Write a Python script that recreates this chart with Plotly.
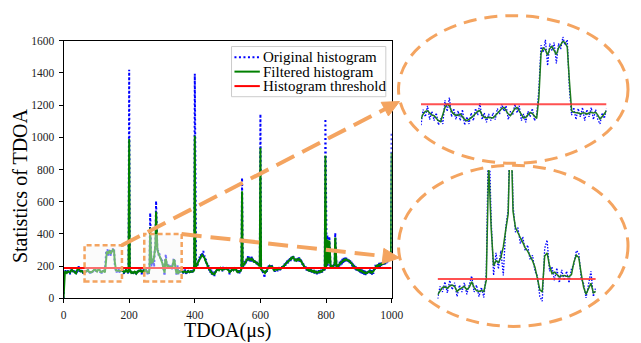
import plotly.graph_objects as go

W, H = 641, 343
FONT = "Liberation Serif, Times New Roman, serif"

# ---------------- data ----------------
tdoa = list(range(0, 1001, 2))  # µs, step 2

filtered = (
    # 0-18
    [0, 158, 163, 166, 160, 158, 163, 168, 165, 162]
    # 20-190
    + [161, 170, 175, 176, 172, 168, 167, 162, 158, 156,
       168, 182, 188, 185, 175, 170, 168, 168, 170, 164,
       160, 158, 160, 163, 167, 171, 175, 176, 168, 164,
       163, 164, 163, 163, 167, 172, 176, 180, 182, 176,
       170, 167, 174, 180, 182, 175, 168, 163, 164, 168,
       173, 171, 166, 162, 200, 280, 290, 287, 277, 289,
       293, 285, 278, 290, 297, 302, 300, 292, 230, 176,
       173, 173, 172, 170, 172, 172, 170, 172, 173, 172,
       173, 168, 161, 165, 170, 176]
    # 192-220
    + [172, 165, 160, 170, 990, 175, 162, 160, 165, 162, 158, 163, 166, 160, 163]
    # 222-352
    + [154, 163, 170, 171, 168, 173, 175, 172, 161, 166,
       170, 172, 165, 170, 182, 170, 163, 161, 163, 161,
       185, 440, 300, 217, 228, 224, 235, 258, 295, 330,
       540, 335, 300, 287, 278, 268, 256, 249, 240, 228,
       214, 189, 165, 160, 238, 245, 217, 200, 203, 198,
       193, 195, 196, 194, 193, 198, 225, 240, 235, 200,
       170, 155, 168, 179, 158, 161]
    # 354-400
    + [165, 168, 172, 168, 165, 162, 166, 170, 168, 163, 160, 163,
       167, 170, 166, 162, 165, 168, 165, 163, 166, 170, 175, 1010]
    # 402-542
    + [188, 197, 206, 211, 224, 233, 247, 252, 262, 263,
       270, 264, 263, 254, 250, 236, 230, 216, 210, 196,
       192, 180, 177, 166, 165, 156, 157, 150, 152, 150,
       160, 170, 174, 180, 179, 183, 176, 182, 188, 182,
       181, 176, 184, 186, 181, 182, 186, 188, 183, 181,
       174, 172, 160, 166, 170, 180, 181, 182, 175, 181,
       186, 180, 179, 168, 170, 163, 165, 164, 170, 171,
       182]
    # 544-1000
    + [665, 200, 204, 212, 216, 224, 228, 240, 241, 248,
       244, 247, 240, 243, 240, 246, 238, 237, 228, 231,
       224, 226, 218, 221, 213, 214, 204, 212, 935, 180,
       176, 168, 166, 160, 156, 158, 168, 168, 177, 183,
       197, 198, 201, 193, 200, 198, 197, 183, 180, 173,
       179, 178, 184, 178, 180, 179, 186, 184, 186, 183,
       189, 188, 197, 196, 205, 205, 214, 216, 224, 224,
       230, 230, 240, 240, 247, 245, 254, 255, 257, 246,
       244, 236, 239, 235, 242, 239, 244, 239, 242, 234,
       232, 222, 219, 208, 205, 194, 192, 185, 187, 180,
       180, 174, 177, 172, 175, 171, 173, 167, 170, 165,
       169, 163, 165, 160, 163, 159, 164, 162, 168, 165,
       169, 166, 172, 171, 178, 178, 184, 887, 195, 210,
       366, 225, 215, 360, 205, 200, 194, 199, 195, 200,
       205, 212, 378, 205, 196, 199, 198, 207, 208, 217,
       216, 224, 224, 232, 232, 239, 236, 242, 239, 243,
       238, 240, 233, 234, 226, 228, 220, 217, 206, 206,
       198, 198, 190, 190, 182, 183, 178, 180, 174, 176,
       171, 174, 168, 170, 163, 164, 159, 162, 156, 159,
       156, 162, 161, 167, 165, 169, 163, 165, 159, 164,
       163, 174, 183, 197, 196, 202, 200, 206, 204, 209,
       206, 212, 210, 216, 214, 219, 217, 224, 223, 230,
       229, 235, 234, 241, 240, 247, 245, 250, 905]
)

original = (
    # 0-18
    [0, 165, 152, 175, 158, 168, 155, 178, 160, 170]
    # 20-190
    + [150, 178, 165, 185, 160, 175, 158, 172, 150, 162,
       152, 195, 175, 200, 165, 180, 160, 176, 158, 178,
       150, 165, 152, 172, 158, 180, 168, 190, 160, 172,
       155, 170, 158, 172, 160, 180, 170, 188, 175, 185,
       160, 175, 168, 188, 172, 185, 158, 170, 155, 175,
       165, 180, 158, 168, 215, 295, 282, 305, 258, 298,
       285, 300, 262, 298, 288, 310, 295, 305, 215, 168,
       182, 160, 180, 165, 182, 158, 178, 165, 182, 160,
       178, 160, 152, 172, 162, 180]
    # 192-220
    + [160, 172, 152, 185, 1420, 190, 155, 170, 150, 172, 155, 170, 158, 168, 155]
    # 222-352
    + [145, 172, 160, 182, 158, 185, 165, 180, 150, 175,
       160, 180, 155, 178, 195, 160, 175, 150, 170, 148,
       200, 530, 320, 196, 245, 210, 250, 196, 300, 340,
       605, 350, 290, 300, 265, 280, 250, 262, 230, 240,
       205, 195, 150, 140, 255, 273, 205, 215, 185, 212,
       180, 208, 185, 205, 180, 210, 220, 250, 245, 190,
       178, 147, 175, 205, 150, 170]
    # 354-400
    + [175, 158, 182, 160, 178, 155, 175, 162, 180, 152, 168, 155,
       178, 165, 155, 172, 158, 180, 160, 172, 155, 178, 190, 1395]
    # 402-542
    + [200, 185, 215, 200, 235, 222, 260, 240, 275, 255,
       285, 260, 295, 250, 268, 228, 245, 205, 222, 188,
       205, 170, 190, 158, 178, 148, 168, 142, 160, 138,
       172, 162, 185, 172, 190, 175, 188, 170, 198, 175,
       192, 168, 195, 178, 190, 172, 196, 180, 195, 172,
       185, 162, 150, 175, 160, 192, 172, 195, 165, 190,
       178, 195, 170, 160, 180, 155, 175, 155, 180, 162,
       195]
    # 544-1000
    + [749, 215, 192, 225, 205, 238, 218, 252, 232, 262,
       235, 260, 230, 255, 228, 260, 226, 250, 218, 244,
       212, 238, 206, 232, 202, 225, 195, 220, 1145, 190,
       165, 182, 155, 172, 127, 170, 155, 180, 165, 195,
       185, 212, 190, 205, 185, 212, 188, 195, 170, 185,
       165, 190, 172, 190, 168, 192, 175, 196, 175, 195,
       178, 200, 185, 210, 192, 218, 202, 228, 212, 238,
       218, 242, 228, 252, 232, 258, 240, 268, 245, 260,
       232, 250, 225, 250, 228, 252, 230, 255, 228, 248,
       220, 235, 208, 222, 192, 208, 180, 198, 175, 192,
       168, 186, 165, 185, 162, 182, 160, 180, 158, 176,
       155, 175, 152, 172, 150, 170, 152, 175, 155, 178,
       158, 180, 160, 182, 168, 190, 172, 1115, 205, 198,
       392, 238, 205, 385, 218, 188, 210, 185, 208, 188,
       215, 200, 407, 215, 185, 210, 188, 218, 198, 228,
       205, 235, 212, 245, 220, 252, 225, 255, 228, 256,
       225, 252, 222, 245, 215, 240, 208, 228, 195, 218,
       188, 208, 180, 200, 172, 195, 168, 190, 162, 186,
       160, 185, 155, 180, 152, 175, 148, 172, 145, 170,
       146, 174, 150, 178, 155, 180, 152, 176, 148, 175,
       152, 185, 172, 208, 186, 212, 190, 216, 194, 220,
       196, 222, 200, 226, 204, 230, 208, 236, 212, 240,
       218, 246, 224, 250, 230, 256, 236, 258, 1030]
)

threshold = 188
x_ticks = [0, 200, 400, 600, 800, 1000]
y_ticks = [0, 200, 400, 600, 800, 1000, 1200, 1400, 1600]
x_range = [0, 1000]
y_range = [0, 1600]

# zoom boxes in data units: (x0, x1, y0, y1)
zoom_boxes = [(64, 178, 105, 330), (246, 360, 105, 400)]
# x ranges shown in the enlarged views
inset_x_ranges = [(20, 190), (222, 352)]

legend_labels = ["Original histogram", "Filtered histogram", "Histogram threshold"]

# ---------------- layout geometry (pixels) ----------------
def px(x):
    return x / W

def py(y):
    return 1 - y / H

MAIN_X = (62, 398)
MAIN_Y = (303, 36)  # bottom, top in px

def data_to_px(x, y):
    X = MAIN_X[0] + (x - x_range[0]) / (x_range[1] - x_range[0]) * (MAIN_X[1] - MAIN_X[0])
    Y = MAIN_Y[0] - (y - y_range[0]) / (y_range[1] - y_range[0]) * (MAIN_Y[0] - MAIN_Y[1])
    return X, Y

BLUE = "#0000ff"
GREEN = "#008000"
RED = "#ff0000"
ORANGE = "#f4a460"

fig = go.Figure()

# main traces
fig.add_trace(go.Scatter(x=tdoa, y=original, mode="lines", name=legend_labels[0],
                         line=dict(color=BLUE, width=2, dash="2px,2.5px"), xaxis="x", yaxis="y"))
fig.add_trace(go.Scatter(x=tdoa, y=filtered, mode="lines", name=legend_labels[1],
                         line=dict(color=GREEN, width=2), xaxis="x", yaxis="y"))
fig.add_trace(go.Scatter(x=[tdoa[0], tdoa[-1]], y=[threshold, threshold], mode="lines",
                         name=legend_labels[2], line=dict(color=RED, width=2), xaxis="x", yaxis="y"))

# inset traces
inset_axes = [("x2", "y2"), ("x3", "y3")]
for (lo, hi), (xa, ya) in zip(inset_x_ranges, inset_axes):
    idx = [i for i, t in enumerate(tdoa) if lo <= t <= hi]
    xs = [tdoa[i] for i in idx]
    fig.add_trace(go.Scatter(x=xs, y=[original[i] for i in idx], mode="lines",
                             line=dict(color=BLUE, width=1.3, dash="1.5px,1.5px"),
                             xaxis=xa, yaxis=ya, showlegend=False))
    fig.add_trace(go.Scatter(x=xs, y=[filtered[i] for i in idx], mode="lines",
                             line=dict(color="#1d7a1d", width=1.5),
                             xaxis=xa, yaxis=ya, showlegend=False))
    fig.add_trace(go.Scatter(x=[lo, hi], y=[threshold, threshold], mode="lines",
                             line=dict(color="rgba(255,50,50,0.85)", width=2),
                             xaxis=xa, yaxis=ya, showlegend=False))

axis_common = dict(showgrid=False, zeroline=False, showline=True, linecolor="black",
                   linewidth=1, mirror=True, ticks="outside", ticklen=4, tickwidth=1,
                   tickcolor="black", tickfont=dict(family=FONT, size=11.5, color="#222"))

# inset vertical geometry: (py_bottom, py_top, value at bottom, value at top)
inset1_y = (150, 20, threshold - (150 - 101.7) * 1.754, threshold - (150 - 101.7) * 1.754 + 228)
inset2_y = (320, 170, threshold - 37 * 2.1, threshold + 113 * 2.1)

fig.update_layout(
    width=W, height=H, margin=dict(l=0, r=0, t=0, b=0),
    paper_bgcolor="white", plot_bgcolor="white", showlegend=False,
    xaxis=dict(domain=[px(MAIN_X[0]), px(MAIN_X[1])], range=x_range, tickvals=x_ticks,
               anchor="y", ticklabelstandoff=2, **axis_common),
    yaxis=dict(domain=[py(MAIN_Y[0]), py(MAIN_Y[1])], range=y_range, tickvals=y_ticks,
               anchor="x", ticklabelstandoff=2, **axis_common),
    xaxis2=dict(domain=[px(428), px(618)], range=list(inset_x_ranges[0]), visible=False, anchor="y2"),
    yaxis2=dict(domain=[py(inset1_y[0]), py(inset1_y[1])], range=[inset1_y[2], inset1_y[3]],
                visible=False, anchor="x2"),
    xaxis3=dict(domain=[px(445), px(607)], range=list(inset_x_ranges[1]), visible=False, anchor="y3"),
    yaxis3=dict(domain=[py(inset2_y[0]), py(inset2_y[1])], range=[inset2_y[2], inset2_y[3]],
                visible=False, anchor="x3"),
)

shapes = []
# zoom boxes on main plot
for (x0, x1, y0, y1) in zoom_boxes:
    shapes.append(dict(type="rect", xref="x", yref="y", x0=x0, x1=x1, y0=y0, y1=y1,
                       fillcolor="rgba(246,246,246,0.45)", layer="above",
                       line=dict(color=ORANGE, width=2.5, dash="5px,3px")))

# ellipses
ellipses = [(405, 10, 640, 163), (405, 165, 640, 332)]
for (x0, y0, x1, y1) in ellipses:
    shapes.append(dict(type="circle", xref="paper", yref="paper",
                       x0=px(x0), x1=px(x1), y0=py(y1), y1=py(y0), layer="above",
                       line=dict(color=ORANGE, width=3, dash="13px,8px")))

# connecting dashed arrows
tips = [(406, 99), (406, 261)]
for (bx0, bx1, by0, by1), tip in zip(zoom_boxes, tips):
    sx, sy = data_to_px(bx1, by1)
    dx, dy = tip[0] - sx, tip[1] - sy
    L = (dx * dx + dy * dy) ** 0.5
    ux, uy = dx / L, dy / L
    hl, hw = 17, 8
    bx, by = tip[0] - hl * ux, tip[1] - hl * uy
    shapes.append(dict(type="line", xref="paper", yref="paper",
                       x0=px(sx), y0=py(sy), x1=px(bx + 3 * ux), y1=py(by + 3 * uy), layer="above",
                       line=dict(color=ORANGE, width=4, dash="20px,9px")))
    c1 = (bx - hw * uy, by + hw * ux)
    c2 = (bx + hw * uy, by - hw * ux)
    path = "M {:.5f},{:.5f} L {:.5f},{:.5f} L {:.5f},{:.5f} Z".format(
        px(tip[0]), py(tip[1]), px(c1[0]), py(c1[1]), px(c2[0]), py(c2[1]))
    shapes.append(dict(type="path", xref="paper", yref="paper", path=path, layer="above",
                       fillcolor=ORANGE, line=dict(color=ORANGE, width=1)))

# legend box
shapes.append(dict(type="rect", xref="paper", yref="paper", x0=px(234), x1=px(392),
                   y0=py(94), y1=py(42), fillcolor="rgba(255,255,255,0.85)", layer="above",
                   line=dict(color="#cccccc", width=1)))
legend_rows = [53, 68, 83]
legend_styles = [dict(color=BLUE, width=2, dash="2px,2.5px"), dict(color=GREEN, width=2),
                 dict(color=RED, width=2)]
for yrow, st in zip(legend_rows, legend_styles):
    shapes.append(dict(type="line", xref="paper", yref="paper", x0=px(237), x1=px(263),
                       y0=py(yrow), y1=py(yrow), layer="above", line=st))

annotations = []
for yrow, lab in zip(legend_rows, legend_labels):
    annotations.append(dict(text=lab, xref="paper", yref="paper", x=px(264), y=py(yrow),
                            xanchor="left", yanchor="middle", showarrow=False,
                            font=dict(family=FONT, size=15, color="black")))
annotations.append(dict(text="Statistics of TDOA", xref="paper", yref="paper", x=px(18), y=py(186),
                        textangle=-90, xanchor="center", yanchor="middle", showarrow=False,
                        font=dict(family=FONT, size=20, color="black")))
annotations.append(dict(text="TDOA(μs)", xref="paper", yref="paper", x=px(230), y=py(336),
                        xanchor="center", yanchor="middle", showarrow=False,
                        font=dict(family=FONT, size=20, color="black")))

fig.update_layout(shapes=shapes, annotations=annotations)
fig.write_html("out.html", config={"displayModeBar": False},
               post_script="document.body.style.margin='0';document.body.style.overflow='hidden';")
